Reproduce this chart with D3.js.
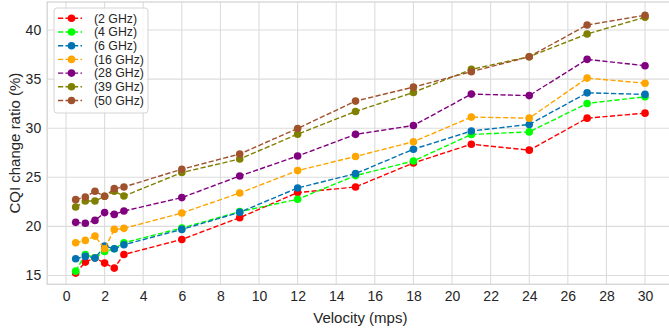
<!DOCTYPE html>
<html>
<head>
<meta charset="utf-8">
<script src="https://cdn.jsdelivr.net/npm/d3@7"></script>
<style>
  body { margin: 0; background: #fff; }
  svg { display: block; font-family: "Liberation Sans", Arial, sans-serif; }
</style>
</head>
<body>
<svg id="chart" width="669" height="332"></svg>
<script>
/////////////////////////// CQI vs velocity ///////////////////////////

    // Data
    const velocity = [0.5, 1, 1.5, 2, 2.5, 3, 6, 9, 12, 15, 18, 21, 24, 27, 30];

    const seriesNames = ["(2 GHz)", "(4 GHz)", "(6 GHz)", "(16 GHz)", "(28 GHz)", "(39 GHz)", "(50 GHz)"];
    const seriesColors = ["#ff0000", "#00ff00", "#0173b2", "#ffa500", "#800080", "#808000", "#a0522d"];

    const ghz2  = [15.24, 16.36, 16.8, 16.26, 15.75, 17.14, 18.67, 20.89, 23.44, 24.01, 26.46, 28.37, 27.76, 31.02, 31.53];
    const ghz4  = [15.44, 17.14, 16.8, 17.45, 17.72, 18.33, 19.83, 21.5, 22.76, 25.17, 26.66, 29.36, 29.62, 32.52, 33.2];
    const ghz6  = [16.7, 16.94, 16.77, 17.99, 17.72, 18.13, 19.69, 21.43, 23.91, 25.37, 27.86, 29.71, 30.38, 33.6, 33.44];
    const ghz16 = [18.33, 18.57, 19.01, 17.72, 19.69, 19.8, 21.36, 23.4, 25.68, 27.12, 28.62, 31.13, 31.02, 35.1, 34.58];
    const ghz28 = [20.41, 20.31, 20.61, 21.4, 21.22, 21.56, 22.93, 25.13, 27.16, 29.37, 30.27, 33.47, 33.32, 37.01, 36.36];
    const ghz39 = [21.97, 22.58, 22.58, 23.06, 23.57, 23.09, 25.48, 26.86, 29.39, 31.7, 33.64, 35.99, 37.28, 39.59, 41.3];
    const ghz50 = [22.72, 22.99, 23.57, 23.06, 23.84, 24.01, 25.82, 27.37, 29.97, 32.76, 34.18, 35.75, 37.28, 40.51, 41.5];

    const xTicks = d3.range(0, 31, 2);
    const yTicks = [15, 20, 25, 30, 35, 40];

    const allSeries = [ghz2, ghz4, ghz6, ghz16, ghz28, ghz39, ghz50];

    // Initialize chart elements
    const svg = d3.select('#chart');
    const plotLeft = 47.2, plotRight = 673.5, plotTop = 2, plotBottom = 284.3;

    const x = d3.scaleLinear().domain([-0.975, 31.475]).range([plotLeft, plotRight]);
    const y = d3.scaleLinear().domain([14.1, 42.85]).range([plotBottom, plotTop]);

    const gridColor = "#dcdcdc";
    const textColor = "#262626";

    //_________________ Grid
    const g = svg.append('g');

    g.selectAll('.xgrid').data(xTicks)
      .enter().append('line')
      .attr('x1', d => x(d)).attr('x2', d => x(d))
      .attr('y1', plotTop).attr('y2', plotBottom)
      .attr('stroke', gridColor).attr('stroke-width', 1.1);

    g.selectAll('.ygrid').data(yTicks)
      .enter().append('line')
      .attr('x1', plotLeft).attr('x2', plotRight)
      .attr('y1', d => y(d)).attr('y2', d => y(d))
      .attr('stroke', gridColor).attr('stroke-width', 1.1);

    // frame
    g.append('rect')
      .attr('x', plotLeft).attr('y', plotTop)
      .attr('width', plotRight - plotLeft).attr('height', plotBottom - plotTop)
      .attr('fill', 'none')
      .attr('stroke', '#d4d4d4').attr('stroke-width', 1.3);

    //_________________ Axes (ticks only as text, seaborn whitegrid)
    const xAxis = d3.axisBottom(x).tickValues(xTicks).tickSize(0).tickPadding(7);
    const yAxis = d3.axisLeft(y).tickValues(yTicks).tickSize(0).tickPadding(6);

    const gx = svg.append('g').attr('transform', `translate(0,${plotBottom})`).call(xAxis);
    const gy = svg.append('g').attr('transform', `translate(${plotLeft},0)`).call(yAxis);

    [gx, gy].forEach(a => {
      a.select('.domain').remove();
      a.selectAll('text')
        .attr('fill', textColor)
        .style('font-size', '14px')
        .style('font-family', '"Liberation Sans", Arial, sans-serif');
    });

    svg.append('text')
      .attr('x', (plotLeft + plotRight) / 2)
      .attr('y', 323)
      .attr('text-anchor', 'middle')
      .attr('fill', textColor)
      .style('font-size', '15px')
      .text('Velocity (mps)');

    svg.append('text')
      .attr('transform', `translate(20,${(plotTop + plotBottom) / 2}) rotate(-90)`)
      .attr('text-anchor', 'middle')
      .attr('fill', textColor)
      .style('font-size', '15px')
      .text('CQI change ratio (%)');

    //_________________ Lines + markers
    const line = d3.line()
      .x((d, i) => x(velocity[i]))
      .y(d => y(d));

    allSeries.forEach((vals, k) => {
      const s = svg.append('g');
      s.append('path')
        .datum(vals)
        .attr('d', line)
        .attr('fill', 'none')
        .attr('stroke', seriesColors[k])
        .attr('stroke-width', 1.4)
        .attr('stroke-dasharray', '5.2,2.3');
      s.selectAll('circle').data(vals)
        .enter().append('circle')
        .attr('cx', (d, i) => x(velocity[i]))
        .attr('cy', d => y(d))
        .attr('r', 3.8)
        .attr('fill', seriesColors[k]);
    });

    //_________________ Legend
    const legend = svg.append('g').attr('transform', 'translate(54,8)');

    legend.append('rect')
      .attr('width', 94).attr('height', 105)
      .attr('rx', 3)
      .attr('fill', 'white').attr('fill-opacity', 0.8)
      .attr('stroke', '#d4d4d4').attr('stroke-width', 1);

    const rows = legend.selectAll('.row').data(seriesNames)
      .enter().append('g')
      .attr('transform', (d, i) => `translate(0,${10.3 + i * 13.7})`);

    rows.append('line')
      .attr('x1', 4).attr('x2', 28)
      .attr('stroke', (d, i) => seriesColors[i])
      .attr('stroke-width', 1.4)
      .attr('stroke-dasharray', '5.2,2.3');

    rows.append('circle')
      .attr('cx', 17.5).attr('r', 3.8)
      .attr('fill', (d, i) => seriesColors[i]);

    rows.append('text')
      .attr('x', 40).attr('dy', '0.35em')
      .attr('fill', textColor)
      .style('font-size', '12.3px')
      .text(d => d);
</script>
</body>
</html>
